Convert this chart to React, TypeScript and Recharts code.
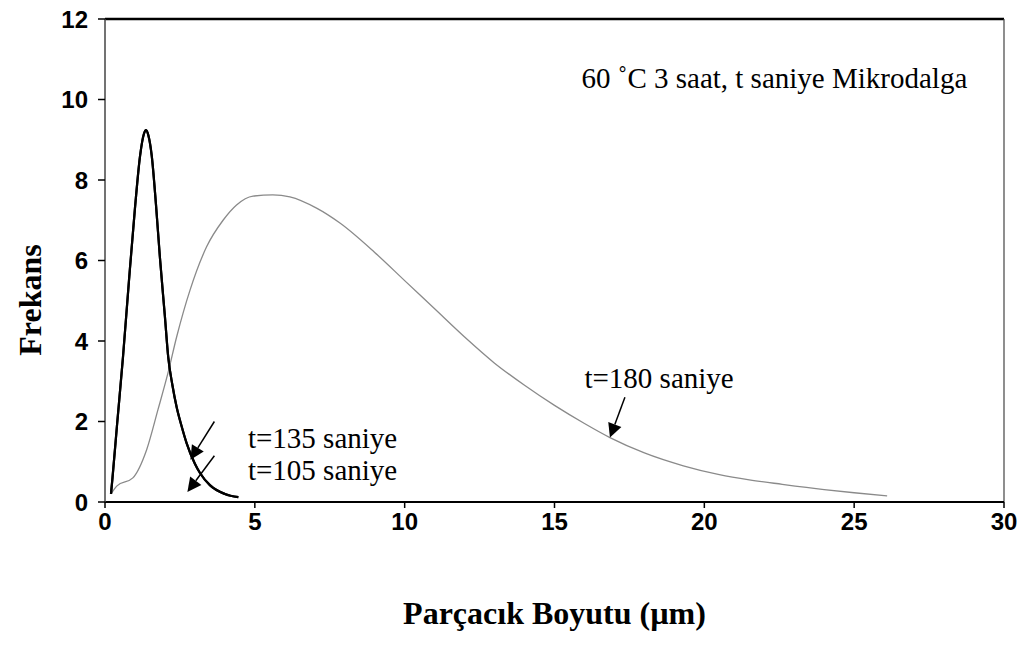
import React from 'react';
import { LineChart, Line, XAxis, YAxis, ReferenceLine, ReferenceDot } from 'recharts';

// t=105 / t=135 saniye (overlapping narrow curve)
const sizeSmall = [0.2, 0.25, 0.4, 0.6, 0.8, 1.0, 1.17, 1.3, 1.37, 1.45, 1.56, 1.7, 1.83, 2.0, 2.11, 2.25, 2.39, 2.55, 2.72, 3.0, 3.17, 3.5, 4.0, 4.45];
const freq135 = [0.2, 0.6, 1.9, 3.6, 5.5, 7.3, 8.6, 9.15, 9.24, 9.1, 8.6, 7.4, 6.1, 4.6, 3.6, 2.9, 2.36, 1.9, 1.47, 0.95, 0.72, 0.42, 0.2, 0.12];
const freq105 = [0.2, 0.6, 1.9, 3.6, 5.5, 7.3, 8.6, 9.15, 9.24, 9.1, 8.6, 7.4, 6.1, 4.6, 3.6, 2.9, 2.36, 1.9, 1.47, 0.95, 0.72, 0.42, 0.2, 0.12];

// t=180 saniye (broad curve)
const sizeLarge = [0.2, 0.4, 0.93, 1.39, 1.77, 2.1, 2.39, 2.84, 3.39, 3.94, 4.39, 4.94, 5.6, 6.17, 7.06, 7.84, 9, 10, 11, 12, 13, 14, 15, 16, 16.85, 18, 19.3, 20.5, 21.5, 22.6, 24, 25, 26.1];
const freq180 = [0.2, 0.4, 0.6, 1.3, 2.3, 3.2, 4.1, 5.27, 6.34, 7.0, 7.38, 7.6, 7.63, 7.58, 7.3, 6.93, 6.2, 5.5, 4.8, 4.1, 3.45, 2.9, 2.4, 1.95, 1.6, 1.22, 0.9, 0.68, 0.55, 0.44, 0.31, 0.23, 0.15];

const xTicks = [0, 5, 10, 15, 20, 25, 30];
const yTicks = [0, 2, 4, 6, 8, 10, 12];

const titleText = '60 \u02DAC 3 saat, t saniye Mikrodalga';
const xTitle = 'Parçacık Boyutu (µm)';
const yTitle = 'Frekans';

const data135 = sizeSmall.map((x, i) => ({ x, f: freq135[i] }));
const data105 = sizeSmall.map((x, i) => ({ x, f: freq105[i] }));
const data180 = sizeLarge.map((x, i) => ({ x, f: freq180[i] }));

const serif = '"Liberation Serif", "Times New Roman", serif';
const sans = '"Liberation Sans", Arial, sans-serif';

const Arrow = (props: any) => {
  const { x1, y1, x2, y2 } = props;
  const dx = x2 - x1;
  const dy = y2 - y1;
  const len = Math.sqrt(dx * dx + dy * dy) || 1;
  const ux = dx / len;
  const uy = dy / len;
  const hl = 14;
  const hw = 7;
  const bx = x2 - ux * hl;
  const by = y2 - uy * hl;
  const pts = `${x2},${y2} ${bx - uy * hw},${by + ux * hw} ${bx + uy * hw},${by - ux * hw}`;
  return (
    <g>
      <line x1={x1} y1={y1} x2={bx} y2={by} stroke="#000" strokeWidth={1.5} />
      <polygon points={pts} fill="#000" />
    </g>
  );
};

const annLabel = (value: string) => ({
  value,
  position: 'right' as const,
  offset: 0,
  fill: '#000',
  fontSize: 29,
  fontFamily: serif,
});

export default function App() {
  return (
    <div style={{ position: 'absolute', left: 0, top: 0, width: 1030, height: 645, background: '#fff' }}>
      <LineChart width={1030} height={645} margin={{ top: 19, right: 26, left: 0, bottom: 0 }}>
        <XAxis
          type="number"
          dataKey="x"
          domain={[0, 30]}
          ticks={xTicks}
          allowDataOverflow
          height={143}
          tickSize={6}
          tickMargin={5}
          axisLine={{ stroke: '#000', strokeWidth: 2 }}
          tickLine={{ stroke: '#000', strokeWidth: 1.5 }}
          tick={{ fill: '#000', fontSize: 24, fontWeight: 'bold', fontFamily: sans }}
          label={{
            content: (p: any) => {
              const vb = p.viewBox || {};
              return (
                <text x={vb.x + vb.width / 2} y={613} textAnchor="middle" dominantBaseline="central" fontFamily={serif} fontWeight="bold" fontSize={32} fill="#000">
                  {xTitle}
                </text>
              );
            },
          }}
        />
        <YAxis
          type="number"
          domain={[0, 12]}
          ticks={yTicks}
          allowDataOverflow
          width={105}
          tickSize={7}
          tickMargin={10}
          axisLine={{ stroke: '#444', strokeWidth: 1.5 }}
          tickLine={{ stroke: '#000', strokeWidth: 1.5 }}
          tick={{ fill: '#000', fontSize: 24, fontWeight: 'bold', fontFamily: sans }}
          label={{
            content: () => (
              <text x={30} y={300} transform="rotate(-90, 30, 300)" textAnchor="middle" dominantBaseline="central" fontFamily={serif} fontWeight="bold" fontSize={32} fill="#000">
                {yTitle}
              </text>
            ),
          }}
        />
        <ReferenceLine y={12} stroke="#000" strokeWidth={2.5} ifOverflow="visible" />
        <ReferenceLine x={30} stroke="#444" strokeWidth={1.2} ifOverflow="visible" />

        <Line data={data180} dataKey="f" type="monotone" stroke="#8a8a8a" strokeWidth={1.3} dot={false} isAnimationActive={false} />
        <Line data={data105} dataKey="f" type="monotone" stroke="#000" strokeWidth={2.2} dot={false} isAnimationActive={false} />
        <Line data={data135} dataKey="f" type="monotone" stroke="#000" strokeWidth={2.2} dot={false} isAnimationActive={false} />

        <ReferenceLine segment={[{ x: 3.65, y: 2.0 }, { x: 2.85, y: 1.05 }]} shape={Arrow} ifOverflow="visible" />
        <ReferenceLine segment={[{ x: 3.65, y: 1.15 }, { x: 2.75, y: 0.25 }]} shape={Arrow} ifOverflow="visible" />
        <ReferenceLine segment={[{ x: 17.35, y: 2.6 }, { x: 16.85, y: 1.6 }]} shape={Arrow} ifOverflow="visible" />

        <ReferenceDot x={4.77} y={1.6} r={0} fill="none" stroke="none" ifOverflow="visible" label={annLabel('t=135 saniye')} />
        <ReferenceDot x={4.77} y={0.8} r={0} fill="none" stroke="none" ifOverflow="visible" label={annLabel('t=105 saniye')} />
        <ReferenceDot x={16.0} y={3.1} r={0} fill="none" stroke="none" ifOverflow="visible" label={annLabel('t=180 saniye')} />
        <ReferenceDot x={15.9} y={10.55} r={0} fill="none" stroke="none" ifOverflow="visible" label={annLabel(titleText)} />
      </LineChart>
    </div>
  );
}
